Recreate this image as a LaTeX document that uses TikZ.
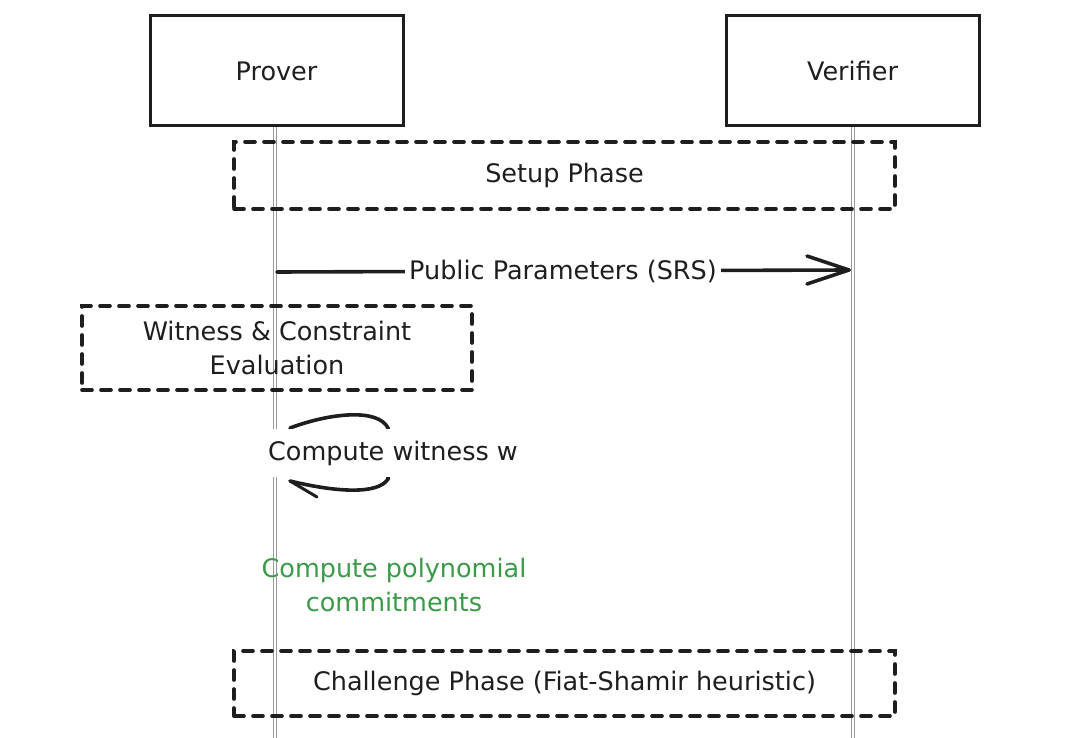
\documentclass[tikz,border=0pt]{standalone}
\usepackage{fontspec}
\setmainfont{DejaVu Sans}
\usetikzlibrary{calc}
\definecolor{inkgreen}{HTML}{3A9A48}
\definecolor{ink}{HTML}{1E1E1E}
\begin{document}
\begin{tikzpicture}[x=1pt,y=-1pt,
  txt/.style={font=\fontsize{25.5}{34}\selectfont, text=ink},
  actor/.style={txt, draw=ink, line width=3pt, minimum width=253pt, minimum height=110pt, inner sep=0pt},
  phase/.style={txt, draw=ink, line width=3.6pt, dash pattern=on 10pt off 9pt, line cap=round, inner sep=0pt, align=center},
  lifeline/.style={draw=black!40, line width=1pt, double=white, double distance=2.4pt},
  msg/.style={draw=ink, line width=3.6pt, line cap=round},
  lbl/.style={txt, fill=white, inner sep=4pt, align=center}
]
\useasboundingbox (0,0) rectangle (1066,738);
% actors
\node[actor] (prover) at (276.5,71) {Prover};
\node[actor] (verifier) at (852.5,71) {Verifier};
\coordinate (pend) at (275,738);
\coordinate (vend) at (853,738);
\draw[lifeline] (prover.south -| pend) -- (pend);
\draw[lifeline] (verifier.south -| vend) -- (vend);
% setup phase
\node[phase, minimum width=661pt, minimum height=67pt] (setup) at (564.5,175.5) {Setup Phase};
% message
\coordinate (m1) at (277,272);
\coordinate (m2) at (849,270);
\draw[msg] (m1) -- (m2);
\draw[msg, line join=round] ($(m2)+(-42,-14)$) -- (m2) -- ($(m2)+(-42,14)$);
\node[lbl] (srs) at (563,271) {Public Parameters (SRS)};
% witness box
\node[phase, minimum width=390pt, minimum height=84pt] (witness) at (277,348) {Witness \& Constraint\\Evaluation};
% self loop
\coordinate (l1) at (290,428);
\coordinate (l2) at (388,428);
\coordinate (l3) at (388,479);
\coordinate (l4) at (290,481);
\draw[msg, line width=3.6pt] (l1) .. controls (330,413) and (378,408) .. (l2) -- (l3) .. controls (378,495) and (335,492) .. (l4);
\draw[msg, line width=3pt] (l4) -- (317,497);
\node[lbl, inner ysep=12pt, inner xsep=0pt] (cw) at (393,453) {Compute witness w};
% green note
\node[txt, text=inkgreen, align=center] (poly) at (394,584.5) {Compute polynomial\\commitments};
% challenge
\node[phase, minimum width=661pt, minimum height=65pt] (chal) at (564.5,683.5) {Challenge Phase (Fiat-Shamir heuristic)};
\end{tikzpicture}
\end{document}
